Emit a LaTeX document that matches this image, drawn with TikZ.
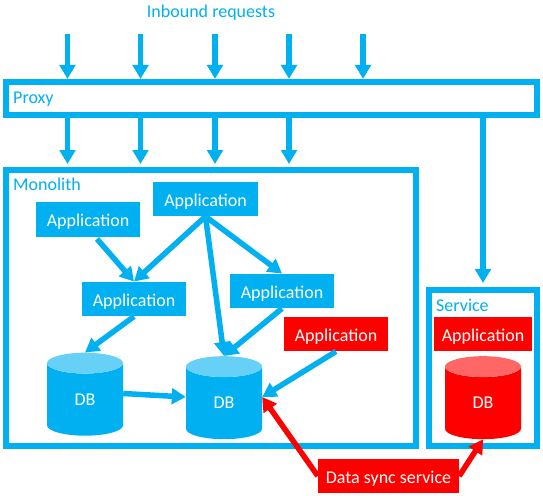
\documentclass[tikz,border=0pt]{standalone}
\usepackage{fontspec}
\setmainfont{Carlito}
\usetikzlibrary{arrows.meta,shapes.geometric}
\definecolor{msblue}{HTML}{00B0F0}
\definecolor{msred}{HTML}{FF0000}
\definecolor{ltblue}{HTML}{66D0F6}
\definecolor{ltred}{HTML}{FF6666}
\tikzset{
  x=1pt,y=-1pt,
  txt/.style={font=\fontsize{18}{20}\selectfont},
  frame/.style={draw=msblue,line width=6pt,fill=white,inner sep=0pt},
  appbox/.style={txt,text=white,fill=msblue,inner sep=0pt,minimum width=104pt,minimum height=34.5pt,text depth=1pt,text height=15pt},
  redbox/.style={appbox,fill=msred},
  caption/.style={txt,text=msblue,inner sep=0pt,anchor=base west},
  dbcyl/.style={cylinder,shape border rotate=90,aspect=1,draw=none,cylinder uses custom fill,
    inner sep=0pt,minimum width=76pt,minimum height=83pt,txt,text=white},
  bluedb/.style={dbcyl,cylinder body fill=msblue,cylinder end fill=ltblue},
  reddb/.style={dbcyl,cylinder body fill=msred,cylinder end fill=ltred},
  conn/.style={draw=msblue,line width=5.5pt,-{Triangle[length=14pt,width=15.5pt]}},
  redconn/.style={conn,draw=msred},
}
\begin{document}
\begin{tikzpicture}
\useasboundingbox (0,0) rectangle (543,495);
% frames
\node[frame,minimum width=531pt,minimum height=33.5pt] (proxy) at (271.5,98.7) {};
\node[frame,minimum width=410pt,minimum height=276pt] (mono) at (211,308) {};
\node[frame,minimum width=108pt,minimum height=156pt] (svc) at (483,368) {};
\node[caption] (proxylbl) at (13,103) {Proxy};
\node[caption] (monolbl) at (13,190) {Monolith};
\node[caption] (svclbl) at (436,311) {Service};
\node[txt,text=msblue,inner sep=0pt] (inbound) at (211,13) {Inbound requests};
% applications
\node[appbox] (a1) at (88,219.5) {Application};
\node[appbox,minimum width=105pt] (a2) at (205.5,199) {Application};
\node[appbox] (a3) at (134,299) {Application};
\node[appbox] (a4) at (282,291) {Application};
\node[redbox] (a5) at (336,334) {Application};
\node[redbox,minimum width=98pt] (a6) at (483,334) {Application};
\node[redbox,minimum width=141pt] (sync) at (388.5,476) {Data sync service};
% databases
\node[bluedb] (db1) at (85,399.5) {DB};
\node[bluedb] (db2) at (224,403) {DB};
\node[reddb] (db3) at (483,403) {DB};
\coordinate (db1out) at ([yshift=6pt]db1.east);
\coordinate (db2w) at ([yshift=6pt]db2.west);
\coordinate (db2e) at ([yshift=6pt]db2.east);
% inbound
\foreach \n/\px in {1/67.5,2/140.5,3/215,4/289,5/363}{
  \coordinate (t\n) at (\px,34);
  \draw[conn] (t\n) -- (t\n |- proxy.north);
}
\foreach \n in {1,2,3,4}{
  \draw[conn,shorten >=3pt] (t\n |- proxy.south) -- (t\n |- mono.north);
}
\draw[conn,shorten >=4pt] (proxy.south -| svc.north) -- (svc.north);
% internal
\draw[conn] (a1.south) ++(9,2) coordinate (a1out) (a1out) -- (a3.north);
\draw[conn] (a2.south) -- (a3.north);
\draw[conn] (a2.south) -- (db2.north);
\draw[conn] (a2.south) -- (a4.north);
\draw[conn] (a3.south) -- (db1.north);
\draw[conn] (a4.south) -- (db2.north);
\draw[conn] (a5.south) -- (db2e);
\draw[conn] (db1out) -- (db2w);
\draw[redconn] (sync.west) -- (db2e);
\draw[redconn] (sync.east) -- (db3.south);
\end{tikzpicture}
\end{document}
